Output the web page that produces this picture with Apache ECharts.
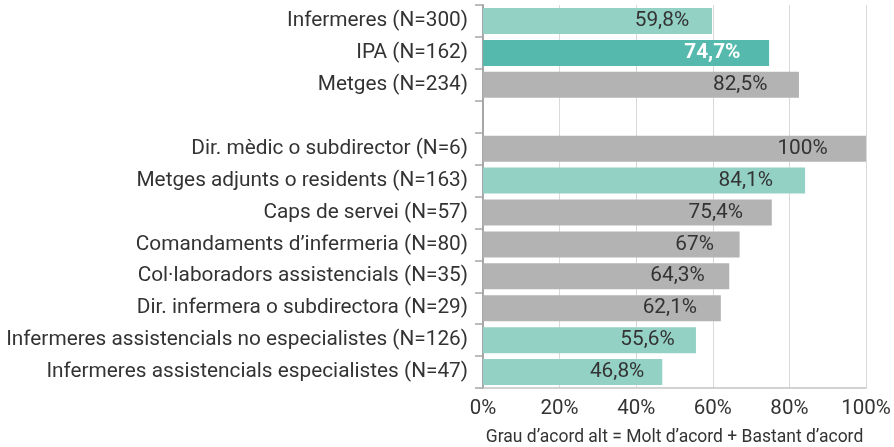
<!DOCTYPE html>
<html>
<head>
<meta charset="utf-8">
<script src="https://cdn.jsdelivr.net/npm/echarts@6/dist/echarts.min.js"></script>
<style>
  html, body { margin: 0; padding: 0; background: #fff; }
  #chart { width: 894px; height: 447px; }
</style>
</head>
<body>
<div id="chart"></div>
<script>
// categories top to bottom, '' is the blank separator row
var categories = [
  'Infermeres (N=300)',
  'IPA (N=162)',
  'Metges (N=234)',
  '',
  'Dir. mèdic o subdirector (N=6)',
  'Metges adjunts o residents (N=163)',
  'Caps de servei (N=57)',
  'Comandaments d’infermeria (N=80)',
  'Col·laboradors assistencials (N=35)',
  'Dir. infermera o subdirectora (N=29)',
  'Infermeres assistencials no especialistes (N=126)',
  'Infermeres assistencials especialistes (N=47)'
];
var values = [59.8, 74.7, 82.5, null, 100, 84.1, 75.4, 67, 64.3, 62.1, 55.6, 46.8];
// colour group per bar: 'nurse', 'ipa', 'other'
var groups = ['nurse', 'ipa', 'other', null, 'other', 'nurse', 'other', 'other', 'other', 'other', 'nurse', 'nurse'];
var xTicks = [0, 20, 40, 60, 80, 100];

var colorOf = { nurse: '#93d1c5', ipa: '#55baad', other: '#b3b3b3' };

var data = values.map(function (v, i) {
  if (v === null) return '-';
  var item = { value: v, itemStyle: { color: colorOf[groups[i]] } };
  if (groups[i] === 'ipa') {
    item.label = { color: '#fff', fontWeight: 'bold' };
  }
  return item;
});

var myChart = echarts.init(document.getElementById('chart'));
myChart.setOption({
  animation: false,
  textStyle: { fontFamily: 'Roboto' },
  grid: { left: 483, right: 28, top: 5, bottom: 59, containLabel: false, outerBoundsMode: 'none' },
  xAxis: {
    type: 'value',
    min: 0,
    max: 100,
    interval: 20,
    axisLine: { show: true, lineStyle: { color: '#c4c4c4', width: 1.5 } },
    axisTick: { show: false },
    splitLine: { lineStyle: { color: '#d9d9d9', width: 1 } },
    axisLabel: {
      color: '#333',
      fontSize: 20.5,
      margin: 10,
      formatter: function (v) { return xTicks.indexOf(v) >= 0 ? v + '%' : ''; }
    },
    name: 'Grau d’acord alt = Molt d’acord + Bastant d’acord',
    nameLocation: 'middle',
    nameGap: 41,
    nameTextStyle: { color: '#333', fontSize: 17.5 }
  },
  yAxis: {
    type: 'category',
    inverse: true,
    data: categories,
    axisLine: { show: true, lineStyle: { color: '#a6a6a6', width: 2 } },
    axisTick: { show: true, length: 8, lineStyle: { color: '#a6a6a6', width: 1.5 } },
    axisLabel: { color: '#333', fontSize: 20.8, margin: 15, interval: 0 }
  },
  series: [{
    type: 'bar',
    data: data,
    barWidth: 26,
    label: {
      show: true,
      position: ['90%', '50%'],
      align: 'right',
      verticalAlign: 'middle',
      color: '#333',
      fontSize: 20.8,
      formatter: function (p) { return String(p.value).replace('.', ',') + '%'; }
    }
  }]
});
</script>
</body>
</html>
